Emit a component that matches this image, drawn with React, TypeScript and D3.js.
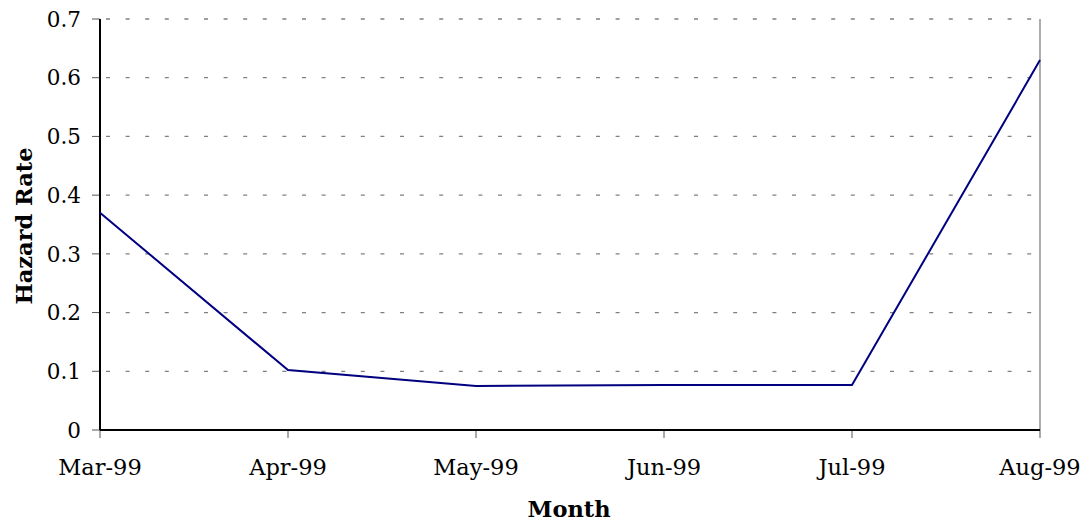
import React from "react";
import * as d3 from "d3";

const months = ["Mar-99", "Apr-99", "May-99", "Jun-99", "Jul-99", "Aug-99"];
const hazardRate = [0.37, 0.102, 0.075, 0.0767, 0.0765, 0.63];
const yTicks = [0, 0.1, 0.2, 0.3, 0.4, 0.5, 0.6, 0.7];

const W = 1084;
const H = 521;
const left = 100;
const right = 1040;
const top = 19;
const bottom = 430;
const font = "'DejaVu Serif', serif";

export default function App() {
  const x = d3.scalePoint<string>().domain(months).range([left, right]);
  const y = d3.scaleLinear().domain([0, 0.7]).range([bottom, top]);
  const line = d3
    .line<number>()
    .x((_, i) => x(months[i]) as number)
    .y((d) => y(d));

  return (
    <svg
      width={W}
      height={H}
      style={{ position: "absolute", left: 0, top: 0, background: "#fff" }}
    >
      {/* horizontal dashed gridlines */}
      {yTicks
        .filter((t) => t > 0)
        .map((t) => (
          <line
            key={"g" + t}
            x1={left}
            x2={right}
            y1={y(t)}
            y2={y(t)}
            stroke="#808080"
            strokeWidth={1.3}
            strokeDasharray="4,15.6"
            strokeDashoffset={-6}
          />
        ))}
      {/* right border */}
      <line x1={right} x2={right} y1={top} y2={bottom} stroke="#808080" strokeWidth={1.3} />
      {/* y ticks and labels */}
      {yTicks.map((t) => (
        <g key={"y" + t}>
          <line x1={left - 8} x2={left} y1={y(t)} y2={y(t)} stroke="#555" strokeWidth={1} />
          <text
            x={81}
            y={y(t)}
            dy="0.36em"
            textAnchor="end"
            fontFamily={font}
            fontSize={21.5}
            fill="#000"
          >
            {t === 0 ? "0" : t.toFixed(1)}
          </text>
        </g>
      ))}
      {/* x ticks and labels */}
      {months.map((m) => (
        <g key={m}>
          <line
            x1={x(m) as number}
            x2={x(m) as number}
            y1={bottom}
            y2={bottom + 8}
            stroke="#555"
            strokeWidth={1}
          />
          <text
            x={x(m) as number}
            y={475}
            textAnchor="middle"
            fontFamily={font}
            fontSize={22.5}
            fill="#000"
          >
            {m}
          </text>
        </g>
      ))}
      {/* axes */}
      <line x1={left} x2={left} y1={top} y2={bottom} stroke="#000" strokeWidth={2} />
      <line x1={left} x2={right} y1={bottom} y2={bottom} stroke="#000" strokeWidth={2} />
      {/* series */}
      <path
        d={line(hazardRate) || ""}
        fill="none"
        stroke="#000080"
        strokeWidth={2}
      />
      {/* axis titles */}
      <text
        x={569}
        y={517}
        textAnchor="middle"
        fontFamily={font}
        fontSize={22.5}
        fontWeight="bold"
        fill="#000"
      >
        Month
      </text>
      <text
        transform={`translate(32, 226) rotate(-90)`}
        textAnchor="middle"
        fontFamily={font}
        fontSize={22.5}
        fontWeight="bold"
        fill="#000"
      >
        Hazard Rate
      </text>
    </svg>
  );
}
